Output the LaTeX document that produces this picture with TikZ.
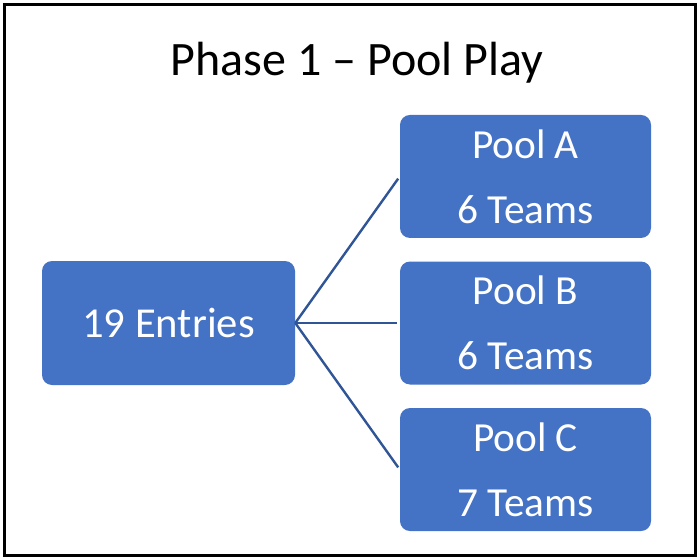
\documentclass[tikz,border=0pt]{standalone}
\usepackage{fontspec}
\setmainfont{Carlito}
\usetikzlibrary{positioning}
\definecolor{poolblue}{HTML}{4472C4}
\definecolor{linkblue}{HTML}{2F5597}

\begin{document}
\begin{tikzpicture}
    [
        x=0.75pt, y=-0.75pt, node distance=109.9pt and 267.75pt, on grid,
        entry_node/.style={rectangle, rounded corners=7.5pt, fill=poolblue, text=white, minimum width=189.75pt, minimum height=93pt, inner sep=0pt, font=\fontsize{32}{38}\selectfont},
        pool_node/.style={rectangle, rounded corners=7.5pt, fill=poolblue, text=white, minimum width=188.25pt, minimum height=92.25pt, inner sep=0pt, align=center, font=\fontsize{31}{48.75}\selectfont},
        link/.style={line width=1.8pt, color=linkblue, shorten >=2pt},
    ]
        \useasboundingbox (0,0) rectangle (700,560);
        \draw[line width=1.8pt] (4.5,4.5) rectangle (695.5,555.5);
        \node[anchor=base, font=\fontsize{36}{43}\selectfont] (title) at (357,75) {Phase 1 – Pool Play};
        \node[entry_node] (entries) at (168.5,323) {19 Entries};
        \node[pool_node] (poolB) [right = of entries] {Pool B\\6 Teams};
        \node[pool_node] (poolA) [above = of poolB] {Pool A\\6 Teams};
        \node[pool_node] (poolC) [below = of poolB] {Pool C\\7 Teams};
        \draw[link] (entries.east) -- (poolA.west);
        \draw[link] (entries.east) -- (poolB.west);
        \draw[link] (entries.east) -- (poolC.west);
\end{tikzpicture}
\end{document}
